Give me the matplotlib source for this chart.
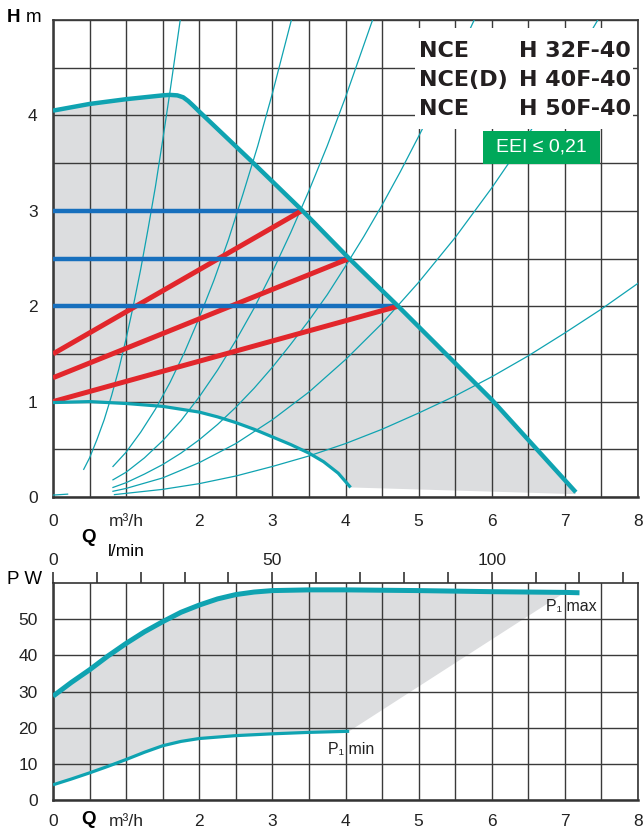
import numpy as np
import matplotlib
matplotlib.use("Agg")
import matplotlib.pyplot as plt
from matplotlib.patches import Rectangle

# --- head chart (H in m vs Q in m3/h) ---
h_max_q = [0, 0.5, 1.0, 1.5, 1.6, 1.7, 1.78, 1.85, 1.92, 2.0, 2.7, 3.4, 4.05, 4.72, 6.0, 7.15]
h_max_h = [4.05, 4.12, 4.17, 4.21, 4.215, 4.21, 4.19, 4.15, 4.1, 4.04, 3.53, 3.01, 2.5, 2.0, 1.02, 0.05]
h_min_q = [0, 0.5, 1.0, 1.5, 2.0, 2.25, 2.5, 2.75, 3.0, 3.25, 3.5, 3.7, 3.9, 4.07]
h_min_h = [0.99, 1.0, 0.98, 0.95, 0.89, 0.84, 0.78, 0.71, 0.63, 0.55, 0.46, 0.37, 0.25, 0.1]
h_floor_h = 0.03  # lower edge of the grey area right of the min curve

# constant pressure (blue) and proportional pressure (red) settings
cp_levels = [3.0, 2.5, 2.0]
cp_end_q = [3.4, 4.05, 4.72]
pp_start_h = [1.5, 1.25, 1.0]

# thin system curves
sys_curves = [
    ([0.42, 0.5, 0.6, 0.7, 0.8, 0.9, 1.0, 1.1, 1.2, 1.3, 1.4, 1.5, 1.6, 1.74],
     [0.29, 0.41, 0.6, 0.81, 1.06, 1.34, 1.66, 2.01, 2.39, 2.81, 3.25, 3.74, 4.25, 5.0]),
    ([0.82, 1.0, 1.2, 1.4, 1.6, 1.8, 2.0, 2.2, 2.4, 2.6, 2.8, 3.0, 3.26],
     [0.32, 0.47, 0.68, 0.92, 1.2, 1.52, 1.88, 2.27, 2.7, 3.18, 3.68, 4.23, 5.0]),
    ([0.82, 1.0, 1.25, 1.5, 1.75, 2.0, 2.25, 2.5, 2.75, 3.0, 3.25, 3.5, 3.75, 4.0, 4.37],
     [0.18, 0.26, 0.41, 0.59, 0.8, 1.05, 1.33, 1.64, 1.98, 2.36, 2.77, 3.21, 3.68, 4.19, 5.0]),
    ([0.82, 1.0, 1.25, 1.5, 1.75, 2.0, 2.25, 2.5, 2.75, 3.0, 3.25, 3.5, 3.75, 4.0, 4.25,
      4.5, 4.75, 5.0, 5.25, 5.5, 5.76],
     [0.1, 0.15, 0.24, 0.34, 0.46, 0.6, 0.76, 0.94, 1.14, 1.36, 1.6, 1.85, 2.12, 2.42, 2.73,
      3.06, 3.41, 3.78, 4.16, 4.57, 5.0]),
    ([0.82, 1.0, 1.5, 2.0, 2.5, 3.0, 3.5, 4.0, 4.5, 5.0, 5.5, 6.0, 6.5, 7.0, 7.45],
     [0.06, 0.09, 0.2, 0.36, 0.56, 0.81, 1.1, 1.44, 1.82, 2.25, 2.72, 3.24, 3.8, 4.41, 5.0]),
    ([0.84, 1.5, 2.0, 2.5, 3.0, 3.5, 4.0, 4.5, 5.0, 5.5, 6.0, 6.5, 7.0, 7.5, 8.0],
     [0.025, 0.08, 0.14, 0.22, 0.32, 0.43, 0.56, 0.71, 0.88, 1.06, 1.26, 1.48, 1.72, 1.97, 2.24]),
    ([0, 0.2], [0.02, 0.03]),
]

# --- power chart (P1 in W vs Q) ---
p_max_q = [0, 0.25, 0.5, 0.75, 1.0, 1.25, 1.5, 1.75, 2.0, 2.25, 2.5, 2.75, 3.0, 3.5, 4.0,
           5.0, 6.0, 7.0, 7.2]
p_max_p = [28.7, 32.5, 36.0, 39.8, 43.3, 46.5, 49.3, 51.9, 53.9, 55.6, 56.8, 57.5, 57.9, 58.1, 58.1,
           57.9, 57.6, 57.4, 57.3]
p_min_q = [0, 0.25, 0.5, 0.75, 1.0, 1.25, 1.5, 1.75, 2.0, 2.5, 3.0, 3.5, 4.05]
p_min_p = [4.2, 5.8, 7.5, 9.3, 11.2, 13.2, 15.0, 16.2, 17.0, 17.8, 18.3, 18.7, 19.0]

x_labels = ["0", "m³/h", "2", "3", "4", "5", "6", "7", "8"]
lmin_ticks = np.arange(0, 131, 10)
lmin_labels = [str(t) if t % 50 == 0 else "" for t in lmin_ticks]

TEAL = "#0fa3b1"
RED = "#e2262b"
BLUE = "#176fbd"
GREY = "#dcdddf"
GRID = "#3a3a3a"
plt.rcParams["font.family"] = ["Liberation Sans", "DejaVu Sans"]

fig = plt.figure(figsize=(6.43, 8.35), dpi=100)
W, H = 643, 835
ax = fig.add_axes([53 / W, 1 - 497 / H, (638 - 53) / W, (497 - 20) / H])
ax2 = fig.add_axes([53 / W, 1 - 800 / H, (638 - 53) / W, (800 - 583) / H])


def style_axes(a, yticks):
    a.set_xlim(0, 8)
    a.set_xticks(np.arange(0, 9, 1))
    a.set_xticks(np.arange(0, 8.01, 0.5), minor=True)
    a.set_xticklabels(x_labels, fontsize=12.5, color="#222")
    a.set_yticks(yticks)
    a.set_yticklabels([str(int(v)) for v in yticks], fontsize=12.5, color="#222")
    a.grid(which="both", color=GRID, lw=1.0, zorder=2)
    a.tick_params(which="both", length=0)
    a.tick_params(axis="y", pad=11)
    a.set_axisbelow(False)
    for s in a.spines.values():
        s.set_color("#333")
        s.set_linewidth(1.2)
    a.spines["left"].set_linewidth(1.8)
    a.spines["bottom"].set_linewidth(1.8)


# head chart
style_axes(ax, np.arange(0, 5, 1))
ax.set_ylim(0, 5)
ax.set_yticks(np.arange(0, 5.01, 0.5), minor=True)
ax.tick_params(axis="x", pad=12)

fill_q = h_max_q + [h_max_q[-1], h_min_q[-1]] + h_min_q[::-1]
fill_h = h_max_h + [h_floor_h, h_min_h[-1]] + h_min_h[::-1]
ax.fill(fill_q, fill_h, color=GREY, lw=0, zorder=1)

for q, h in sys_curves:
    ax.plot(q, h, color=TEAL, lw=0.9, zorder=3)

for lvl, qe, hs in zip(cp_levels, cp_end_q, pp_start_h):
    ax.plot([0, qe], [lvl, lvl], color=BLUE, lw=3.2, zorder=4, solid_capstyle="butt")
    ax.plot([0, qe], [hs, lvl], color=RED, lw=3.6, zorder=4, solid_capstyle="butt")

ax.plot(h_max_q, h_max_h, color=TEAL, lw=3.2, zorder=5, solid_capstyle="butt")
ax.plot(h_min_q, h_min_h, color=TEAL, lw=2.3, zorder=5, solid_capstyle="butt")

ax.add_patch(Rectangle((4.95, 3.86), 2.98, 1.06, fc="white", ec="none", zorder=6))
titles = [("NCE", "H 32F-40"), ("NCE(D)", "H 40F-40"), ("NCE", "H 50F-40")]
for i, (a_txt, b_txt) in enumerate(titles):
    y = 4.67 - i * 0.3
    ax.text(5.0, y, a_txt, fontsize=16, fontweight="bold", family="DejaVu Sans",
            color="#231f20", va="center", ha="left", zorder=7)
    ax.text(6.37, y, b_txt, fontsize=16, fontweight="bold", family="DejaVu Sans",
            color="#231f20", va="center", ha="left", zorder=7)
ax.add_patch(Rectangle((5.88, 3.49), 1.6, 0.35, fc="#00a85a", ec="none", zorder=7))
ax.text(6.68, 3.665, "EEI ≤ 0,21", fontsize=14, color="white", ha="center", va="center",
        zorder=8)

# power chart
style_axes(ax2, np.arange(0, 60, 10))
ax2.set_ylim(0, 60)
ax2.tick_params(axis="x", pad=10)

pf_q = [q for q in p_max_q if q <= 7.0] + p_min_q[::-1]
pf_p = [p for q, p in zip(p_max_q, p_max_p) if q <= 7.0] + p_min_p[::-1]
ax2.fill(pf_q, pf_p, color=GREY, lw=0, zorder=1)
ax2.plot(p_max_q, p_max_p, color=TEAL, lw=3.6, zorder=5, solid_capstyle="butt")
ax2.plot(p_min_q, p_min_p, color=TEAL, lw=2.3, zorder=5, solid_capstyle="butt")
ax2.text(6.74, 53.5, "P₁ max", fontsize=11.5, color="#222", va="center", ha="left", zorder=6)
ax2.text(3.76, 14.0, "P₁ min", fontsize=11.5, color="#222", va="center", ha="left", zorder=6)

top = ax2.secondary_xaxis("top", functions=(lambda q: q * 1000 / 60, lambda l: l * 60 / 1000))
top.set_xticks(lmin_ticks)
top.set_xticklabels(lmin_labels, fontsize=12.5, color="#222")
top.tick_params(length=8, width=1.2, color="#333", pad=3)
top.spines["top"].set_visible(False)

# axis captions
fig.text(7 / W, 1 - 17 / H, "H", fontsize=13.5, fontweight="bold", va="center", ha="left")
fig.text(26 / W, 1 - 17 / H, "m", fontsize=13.5, va="center", ha="left")
fig.text(7 / W, 1 - 580 / H, "P W", fontsize=13.5, va="center", ha="left")
fig.text(88 / W, 1 - 538 / H, "Q", fontsize=13.5, fontweight="bold", va="center", ha="center")
fig.text(108 / W, 1 - 552 / H, "l/min", fontsize=12.5, va="center", ha="left")
fig.text(88 / W, 1 - 820 / H, "Q", fontsize=13.5, fontweight="bold", va="center", ha="center")

fig.savefig("out.png", dpi=100)
